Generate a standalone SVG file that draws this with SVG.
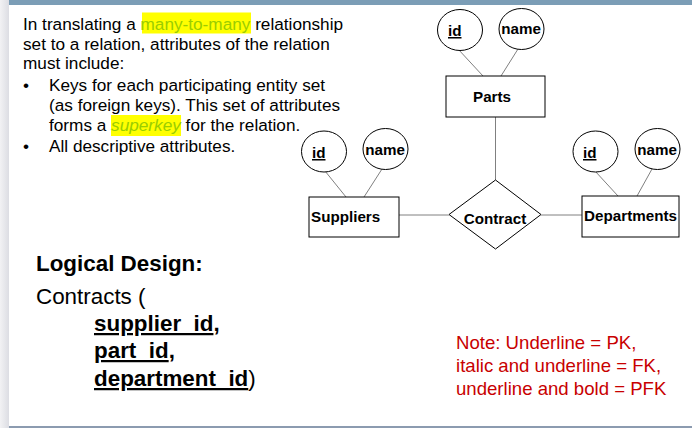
<svg xmlns="http://www.w3.org/2000/svg" width="692" height="428" viewBox="0 0 692 428">
  <style>
    .body { font-family: "Liberation Sans", Arial, sans-serif; font-size: 17.2px; fill: #000; }
    .hl { fill: #9ACD00; }
    .lbl { font-family: "Liberation Sans", Arial, sans-serif; font-size: 15.2px; font-weight: bold; fill: #000; }
    .attr { fill: #fff; stroke: #000; stroke-width: 1; }
    .ent { fill: #fff; stroke: #000; stroke-width: 1; }
    .link { stroke: #808080; stroke-width: 1; fill: none; }
    .big { font-family: "Liberation Sans", Arial, sans-serif; font-size: 22.4px; fill: #000; }
    .key { text-decoration: underline; text-decoration-thickness: 2px; }
    .note { font-family: "Liberation Sans", Arial, sans-serif; font-size: 18.6px; fill: #C80000; }
  </style>
  <defs>
    <linearGradient id="sideStrip" x1="0" y1="0" x2="1" y2="0">
      <stop offset="0" stop-color="#F2F2F4"/>
      <stop offset="1" stop-color="#DCDDE3"/>
    </linearGradient>
  </defs>

  <!-- page frame -->
  <rect x="0" y="0" width="692" height="428" fill="#fff"/>
  <rect x="0" y="0" width="9" height="428" fill="url(#sideStrip)"/>
  <rect x="9" y="0" width="683" height="5" fill="#7B9DB6"/>
  <rect x="9" y="426" width="683" height="2" fill="#8C9BB0"/>

  <!-- explanatory text -->
  <rect x="142" y="12.5" width="109" height="21" fill="#FFFF00"/>
  <rect x="111" y="115" width="70" height="21" fill="#FFFF00"/>
  <text class="body" x="23" y="30">In translating a <tspan class="hl">many-to-many</tspan> relationship</text>
  <text class="body" x="23" y="50">set to a relation, attributes of the relation</text>
  <text class="body" x="23" y="69">must include:</text>
  <text class="body" x="23" y="91">•</text>
  <text class="body" x="49" y="91">Keys for each participating entity set</text>
  <text class="body" x="49" y="111">(as foreign keys). This set of attributes</text>
  <text class="body" x="49" y="131">forms a <tspan class="hl" font-style="italic">superkey</tspan> for the relation.</text>
  <text class="body" x="23" y="152">•</text>
  <text class="body" x="49" y="152">All descriptive attributes.</text>

  <!-- connectors -->
  <g id="connectors">
    <line class="link" x1="458" y1="49" x2="483" y2="76"/>
    <line class="link" x1="518" y1="49" x2="501" y2="76"/>
    <line class="link" x1="495.5" y1="117" x2="495.5" y2="180"/>
    <line class="link" x1="325" y1="171" x2="346" y2="197"/>
    <line class="link" x1="382" y1="169" x2="364" y2="197"/>
    <line class="link" x1="399" y1="215" x2="449" y2="215"/>
    <line class="link" x1="595" y1="171" x2="618" y2="196"/>
    <line class="link" x1="652" y1="169" x2="637" y2="196"/>
    <line class="link" x1="541" y1="215" x2="582" y2="215"/>
  </g>

  <!-- Parts entity with attributes -->
  <g id="parts">
    <rect class="ent" x="446" y="76" width="99" height="41"/>
    <text class="lbl" x="492" y="102" text-anchor="middle">Parts</text>
  </g>
  <g id="parts-id">
    <ellipse class="attr" cx="460" cy="30" rx="22.5" ry="20.5"/>
    <text class="lbl" x="448" y="36" text-decoration="underline">id</text>
  </g>
  <g id="parts-name">
    <ellipse class="attr" cx="521.5" cy="29" rx="22.5" ry="20.5"/>
    <text class="lbl" x="521" y="34" text-anchor="middle">name</text>
  </g>

  <!-- Suppliers entity with attributes -->
  <g id="suppliers">
    <rect class="ent" x="309" y="197" width="90" height="40"/>
    <text class="lbl" x="311" y="222">Suppliers</text>
  </g>
  <g id="suppliers-id">
    <ellipse class="attr" cx="324" cy="151.5" rx="22.5" ry="20.5"/>
    <text class="lbl" x="312" y="158" text-decoration="underline">id</text>
  </g>
  <g id="suppliers-name">
    <ellipse class="attr" cx="385.5" cy="149" rx="22.5" ry="20.5"/>
    <text class="lbl" x="385" y="155" text-anchor="middle">name</text>
  </g>

  <!-- Departments entity with attributes -->
  <g id="departments">
    <rect class="ent" x="582" y="196" width="97" height="41"/>
    <text class="lbl" x="630.5" y="221" text-anchor="middle">Departments</text>
  </g>
  <g id="departments-id">
    <ellipse class="attr" cx="595.5" cy="151.5" rx="22.5" ry="20.5"/>
    <text class="lbl" x="583" y="158" text-decoration="underline">id</text>
  </g>
  <g id="departments-name">
    <ellipse class="attr" cx="657.5" cy="149" rx="22.5" ry="20.5"/>
    <text class="lbl" x="657" y="155" text-anchor="middle">name</text>
  </g>

  <!-- Contract relationship -->
  <g id="contract">
    <polygon class="ent" points="495.5,180 541,214.5 495.5,249 449,214.5"/>
    <text class="lbl" x="495" y="224" text-anchor="middle">Contract</text>
  </g>

  <!-- logical design -->
  <text class="big" x="36" y="271" font-weight="bold">Logical Design:</text>
  <text class="big" x="36" y="304">Contracts (</text>
  <text class="big" x="94" y="331" font-weight="bold"><tspan class="key">supplier_id</tspan>,</text>
  <text class="big" x="94" y="358" font-weight="bold"><tspan class="key">part_id</tspan>,</text>
  <text class="big" x="94" y="386"><tspan class="key" font-weight="bold">department_id</tspan>)</text>

  <!-- key legend -->
  <text class="note" x="456" y="349">Note: Underline = PK,</text>
  <text class="note" x="456" y="372">italic and underline = FK,</text>
  <text class="note" x="456" y="395">underline and bold = PFK</text>
</svg>
